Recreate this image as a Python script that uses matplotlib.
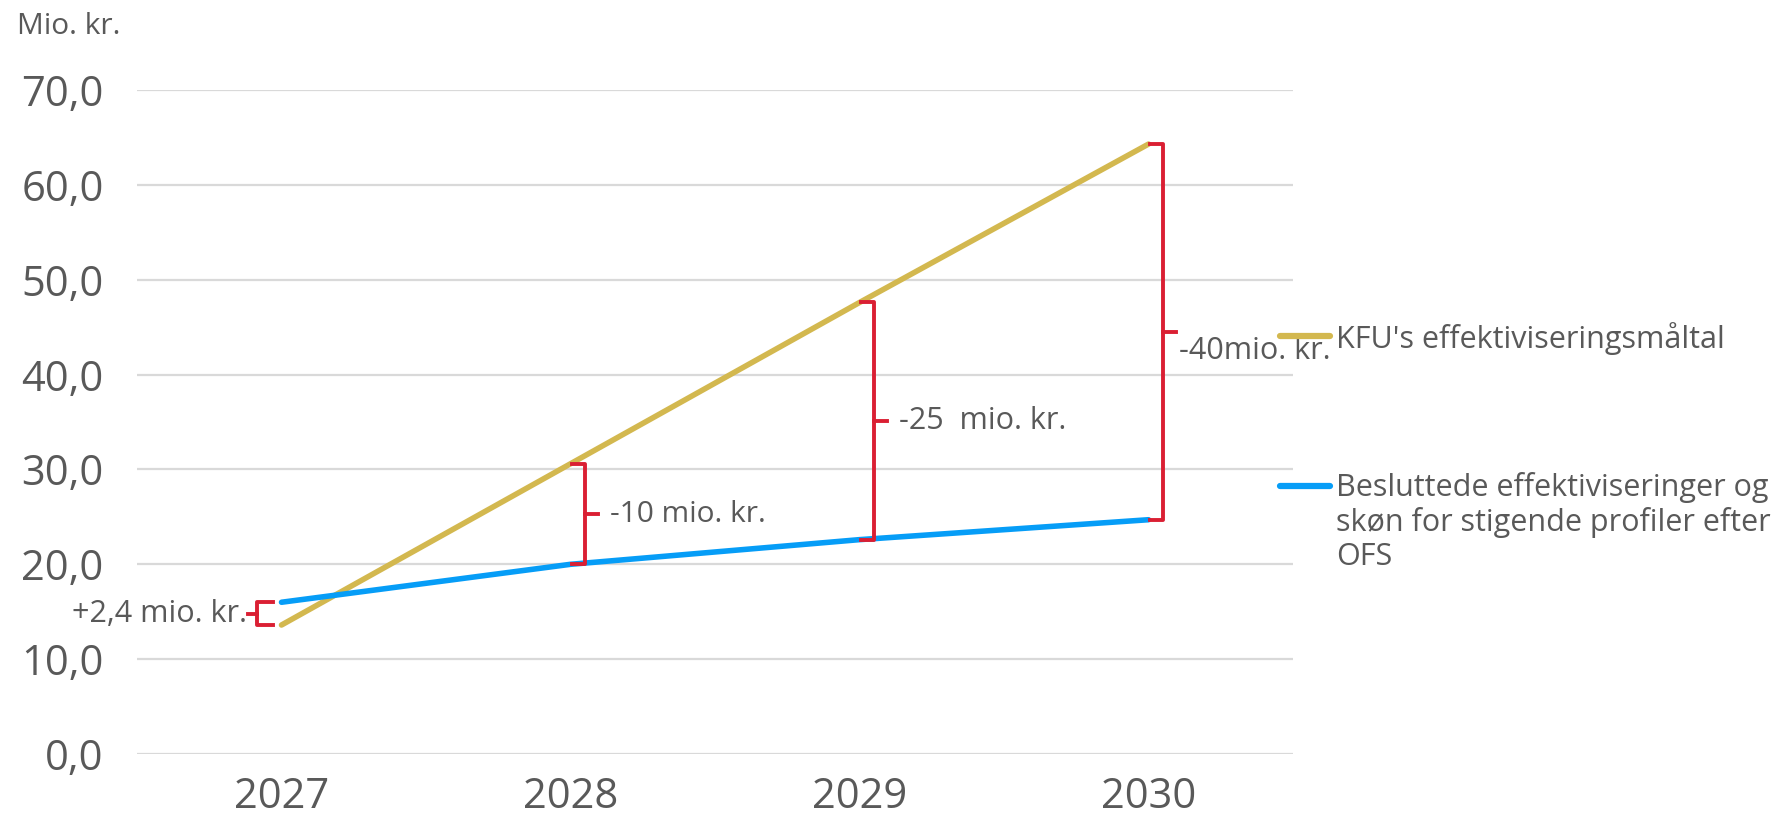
import numpy as np
import matplotlib.pyplot as plt
from matplotlib.lines import Line2D

plt.rcParams['font.family'] = ['Open Sans', 'DejaVu Sans']

# data
years = ['2027', '2028', '2029', '2030']
kfu_target = [13.6, 30.6, 47.6, 64.3]
decided = [16.0, 20.0, 22.6, 24.7]
series_labels = ["KFU's effektiviseringsmåltal",
                 "Besluttede effektiviseringer og\nskøn for stigende profiler efter\nOFS"]
gap_labels = ['+2,4 mio. kr.', '-10 mio. kr.', '-25  mio. kr.', '-40mio. kr.']
yticks = [0, 10, 20, 30, 40, 50, 60, 70]

GOLD = '#D3B84F'
BLUE = '#069DF7'
RED = '#DA1F33'
TXT = '#595959'
GRID = '#D9D9D9'

fig = plt.figure(figsize=(17.86, 8.15), dpi=100)
ax = fig.add_axes([0.0767, 0.0748, 0.6473, 0.8148])

x = np.arange(len(years))
ax.plot(x, kfu_target, color=GOLD, lw=4, solid_capstyle='round', zorder=3)
ax.plot(x, decided, color=BLUE, lw=4, solid_capstyle='round', zorder=3)

ax.set_xlim(-0.5, 3.5)
ax.set_ylim(0, 70)
ax.set_yticks(yticks)
ax.set_yticklabels([f'{v:.1f}'.replace('.', ',') for v in yticks])
ax.set_xticks(x)
ax.set_xticklabels(years)
ax.grid(axis='y', color=GRID, lw=1.6)
ax.set_axisbelow(True)
for s in ax.spines.values():
    s.set_visible(False)
ax.tick_params(axis='y', length=0, pad=24, labelsize=30, labelcolor=TXT)
ax.tick_params(axis='x', length=0, pad=16, labelsize=30, labelcolor=TXT)

# brackets showing the gap between the two series
for i in range(len(years)):
    top = max(kfu_target[i], decided[i])
    bot = min(kfu_target[i], decided[i])
    mid = (top + bot) / 2
    if i == 0:
        xv, x0, tick = x[i] - 0.086, x[i] - 0.03, -0.03
        ax.text(xv + tick - 0.005, mid, gap_labels[i], ha='right', va='center',
                fontsize=22, color=TXT)
    else:
        xv, x0, tick = x[i] + 0.05, x[i] + 0.005, 0.045
        ty = mid - 2.0 if i == 3 else mid
        tx = xv + tick + (0.01 if i == 3 else 0.04)
        ax.text(tx, ty, gap_labels[i], ha='left', va='center',
                fontsize=22 if i > 1 else 21.5, color=TXT, zorder=5)
    ax.plot([x0, xv, xv, x0], [top, top, bot, bot], color=RED, lw=2.8,
            solid_joinstyle='round', clip_on=False, zorder=4)
    ax.plot([xv, xv + tick], [mid, mid], color=RED, lw=2.8, clip_on=False, zorder=4)

# unit label
fig.text(0.0095, 0.967, 'Mio. kr.', fontsize=21.5, color=TXT, va='center', ha='left')

# legend drawn by hand
leg_y = [0.588, 0.404]
for lab, col, ly in zip(series_labels, [GOLD, BLUE], leg_y):
    fig.add_artist(Line2D([0.7167, 0.7445], [ly, ly], color=col, lw=4.5,
                          solid_capstyle='round', transform=fig.transFigure))
    fig.text(0.748, ly + 0.017, lab, fontsize=22, color=TXT, va='top', ha='left',
             linespacing=1.18)

fig.savefig('out.png', dpi=100)
